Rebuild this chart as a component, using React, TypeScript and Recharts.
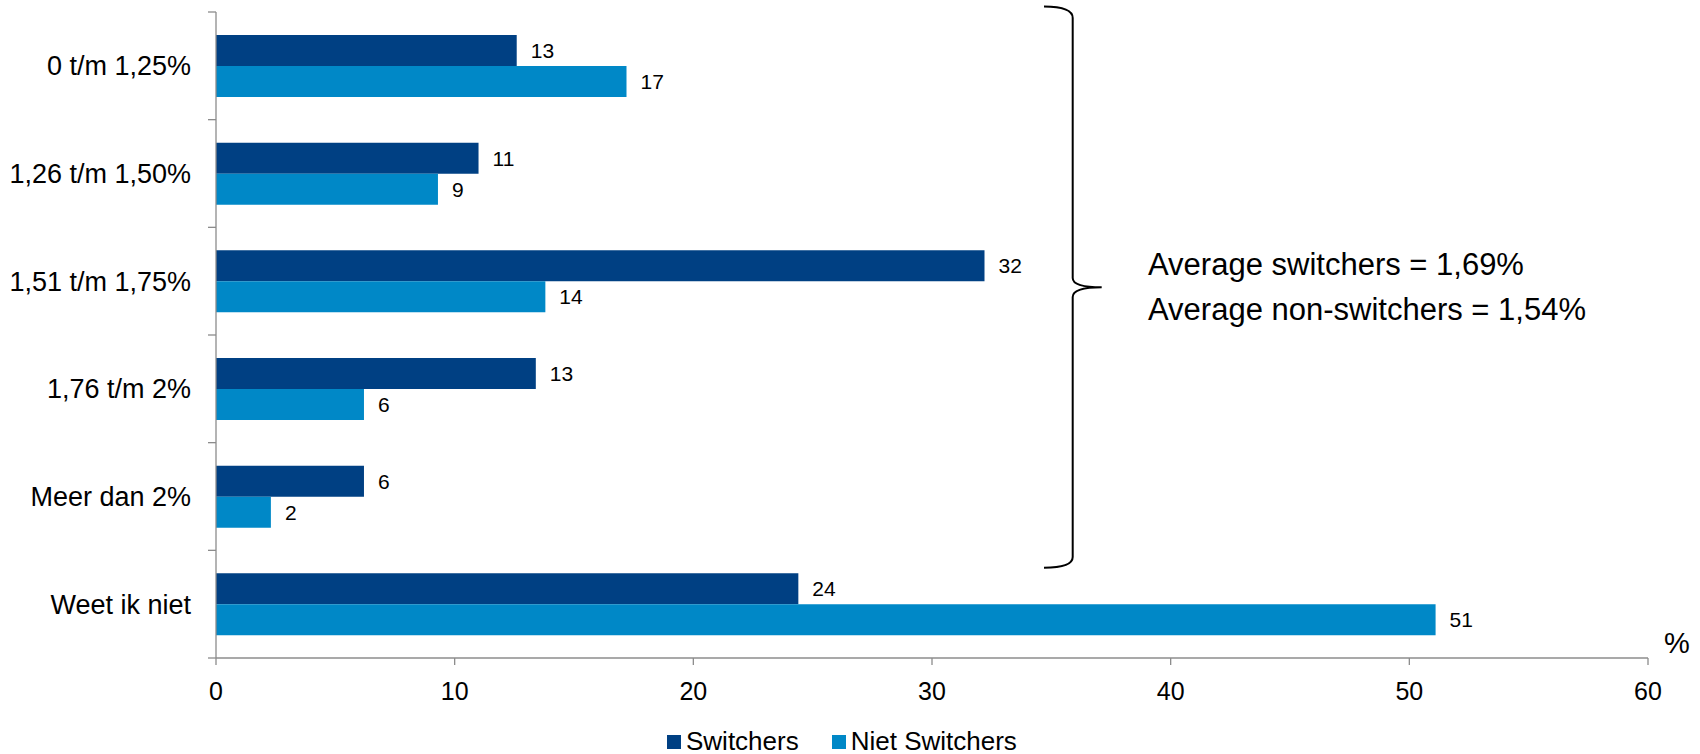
import { BarChart, Bar, XAxis, YAxis, Legend, LabelList } from "recharts";

// ── Data ─────────────────────────────────────────────────────────────

const CATEGORIES = [
  "0 t/m 1,25%",
  "1,26 t/m 1,50%",
  "1,51 t/m 1,75%",
  "1,76 t/m 2%",
  "Meer dan 2%",
  "Weet ik niet",
];
const SWITCHERS = [12.6, 11.0, 32.2, 13.4, 6.2, 24.4];
const NIET_SWITCHERS = [17.2, 9.3, 13.8, 6.2, 2.3, 51.1];
const X_TICKS = [0, 10, 20, 30, 40, 50, 60];

const SERIES = [
  { key: "switchers", name: "Switchers", color: "#004083" },
  { key: "niet", name: "Niet Switchers", color: "#0088C7" },
];

const AVERAGES = ["Average switchers = 1,69%", "Average non-switchers = 1,54%"];

const data = CATEGORIES.map((cat, i) => ({
  cat,
  switchers: SWITCHERS[i],
  niet: NIET_SWITCHERS[i],
}));

// ── Layout ───────────────────────────────────────────────────────────

const W = 1700;
const H = 754;
const MARGIN = { top: 12, right: 52, left: 0, bottom: 0 };
const Y_W = 216;
const X_H = 71;
const LEGEND_H = 25;
const PLOT_H = H - MARGIN.top - X_H - LEGEND_H;
const BAND = PLOT_H / CATEGORIES.length;
const FONT = '"Liberation Sans", Arial, sans-serif';
const AXIS = "#8c8c8c";

// Category label at band centre, tick marks on band boundaries
function CategoryTick(props: any) {
  const { x, y, payload, index } = props;
  return (
    <g>
      <line x1={x - 8} x2={x} y1={y - BAND / 2} y2={y - BAND / 2} stroke={AXIS} strokeWidth={1.3} />
      {index === CATEGORIES.length - 1 && (
        <line x1={x - 8} x2={x} y1={y + BAND / 2} y2={y + BAND / 2} stroke={AXIS} strokeWidth={1.3} />
      )}
      <text x={x - 25} y={y} dy={9.5} textAnchor="end" fill="#000" fontSize={27} fontFamily={FONT}>
        {payload.value}
      </text>
    </g>
  );
}

function LegendContent() {
  return (
    <div style={{ position: "relative", height: LEGEND_H, fontFamily: FONT, fontSize: 26, color: "#000" }}>
      <div style={{ position: "absolute", left: 667, top: 0, display: "flex", alignItems: "center", height: LEGEND_H, whiteSpace: "nowrap" }}>
        {SERIES.map((s, i) => (
          <span key={s.key} style={{ display: "flex", alignItems: "center", marginLeft: i === 0 ? 0 : 33 }}>
            <span style={{ width: 14, height: 14, background: s.color, display: "inline-block", marginRight: 5 }} />
            <span style={{ lineHeight: "25px" }}>{s.name}</span>
          </span>
        ))}
      </div>
    </div>
  );
}

export default function App() {
  return (
    <div style={{ position: "absolute", left: 0, top: 0, width: W, height: H, background: "#fff" }}>
      <BarChart
        width={W}
        height={H}
        data={data}
        layout="vertical"
        margin={MARGIN}
        barCategoryGap={23}
        barGap={0}
      >
        <XAxis
          type="number"
          domain={[0, 60]}
          ticks={X_TICKS}
          interval={0}
          height={X_H}
          tickSize={7}
          tickMargin={17}
          axisLine={{ stroke: AXIS, strokeWidth: 1.3 }}
          tickLine={{ stroke: AXIS, strokeWidth: 1.3 }}
          tick={{ fill: "#000", fontSize: 25, fontFamily: FONT }}
        />
        <YAxis
          type="category"
          dataKey="cat"
          width={Y_W}
          tickSize={0}
          tickMargin={0}
          tickLine={false}
          interval={0}
          axisLine={{ stroke: AXIS, strokeWidth: 1.3 }}
          tick={CategoryTick as any}
        />
        <Legend
          verticalAlign="bottom"
          content={LegendContent as any}
          wrapperStyle={{ left: 0, width: W, height: LEGEND_H }}
        />
        {SERIES.map((s) => (
          <Bar key={s.key} dataKey={s.key} name={s.name} fill={s.color} isAnimationActive={false}>
            <LabelList
              dataKey={s.key}
              position="right"
              offset={14}
              formatter={(v: any) => Math.round(Number(v))}
              fill="#000"
              fontSize={21}
              fontFamily={FONT}
            />
          </Bar>
        ))}
      </BarChart>

      {/* Brace + averages annotation, and the % unit */}
      <svg width={W} height={H} style={{ position: "absolute", left: 0, top: 0, pointerEvents: "none" }}>
        <path
          d="M1044,6.5 Q1072.7,6.5 1072.7,18 L1072.7,278 Q1072.7,287.3 1101.7,287.3 Q1072.7,287.3 1072.7,297 L1072.7,557 Q1072.7,567.7 1044,567.7"
          fill="none"
          stroke="#000"
          strokeWidth={2}
        />
        {AVERAGES.map((t, i) => (
          <text key={t} x={1148} y={275 + i * 45} fontSize={31} fontFamily={FONT} fill="#000">
            {t}
          </text>
        ))}
        <text x={1677} y={653} textAnchor="middle" fontSize={29} fontFamily={FONT} fill="#000">
          %
        </text>
      </svg>
    </div>
  );
}
